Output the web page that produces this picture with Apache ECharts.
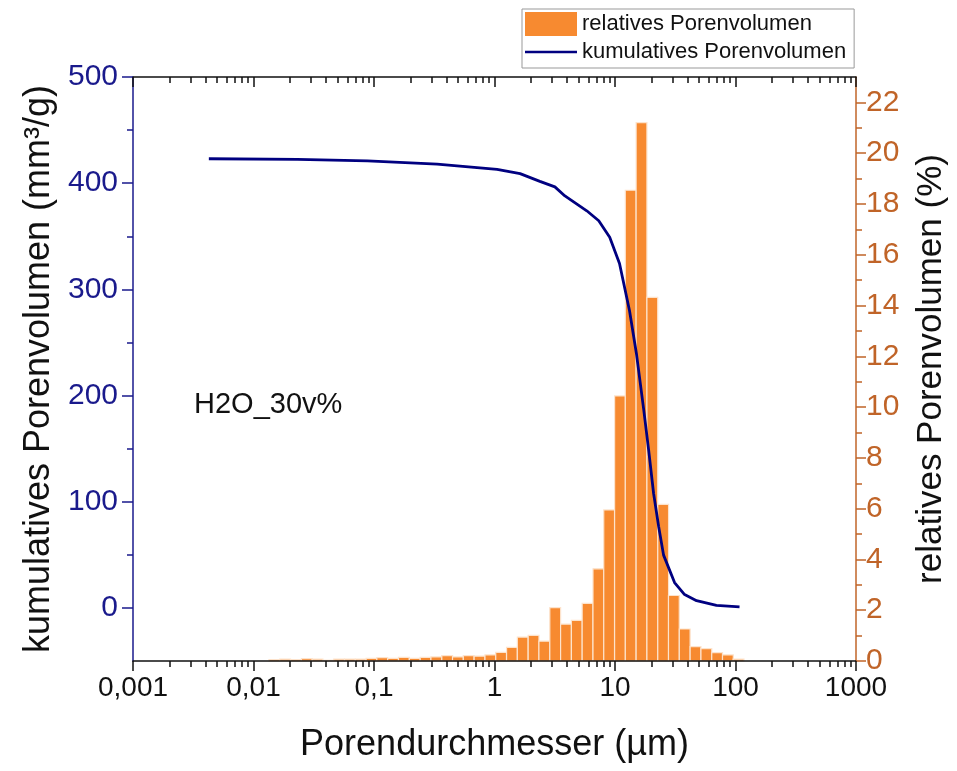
<!DOCTYPE html>
<html>
<head>
<meta charset="utf-8">
<script src="https://cdn.jsdelivr.net/npm/echarts@6/dist/echarts.min.js"></script>
<style>
  html, body { margin: 0; padding: 0; background: #fff; }
  #chart { width: 957px; height: 771px; }
</style>
</head>
<body>
<div id="chart"></div>
<script>
// Klassenmitten der Porendurchmesser (µm) und relatives Porenvolumen (%)
var binDiameter = [0.0149, 0.0183, 0.0225, 0.0277, 0.0340, 0.0418, 0.0514, 0.0631, 0.0776, 0.0954,
  0.117, 0.144, 0.177, 0.218, 0.268, 0.329, 0.405, 0.497, 0.611, 0.751,
  0.924, 1.135, 1.396, 1.715, 2.11, 2.59, 3.19, 3.92, 4.82, 5.92,
  7.28, 8.94, 11.0, 13.5, 16.6, 20.4, 25.1, 30.8, 37.9, 46.6,
  57.3, 70.4, 86.5, 106];
var relVolume = [0.06, 0.07, 0.06, 0.09, 0.07, 0.03, 0.07, 0.07, 0.07, 0.10,
  0.13, 0.10, 0.14, 0.10, 0.14, 0.16, 0.21, 0.16, 0.21, 0.19,
  0.24, 0.34, 0.54, 0.94, 1.01, 0.78, 2.10, 1.45, 1.60, 2.27,
  3.63, 5.95, 10.44, 18.54, 21.2, 14.32, 6.17, 2.58, 1.26, 0.57,
  0.49, 0.33, 0.24, 0.07];

// kumulatives Porenvolumen (mm3/g)
var cumDiameter = [0.00426, 0.0232, 0.0882, 0.334, 0.716, 1.05, 1.63, 2.38, 3.17, 3.84,
  5.83, 7.33, 9.04, 10.9, 13.2, 15.1, 17.3, 19.0, 20.9, 23.0,
  25.3, 31.2, 37.8, 47.5, 69.5, 108];
var cumVolume = [423, 422.5, 421, 418, 414.7, 413, 409, 401.7, 396.5, 388,
  374, 364.6, 349, 324.4, 279.8, 238.6, 187, 149, 108, 77,
  49.7, 23.9, 12.6, 6.8, 2.3, 1];

var xDecades = [0.001, 0.01, 0.1, 1, 10, 100, 1000];
var leftTicks = [0, 100, 200, 300, 400, 500];
var leftMinor = [50, 150, 250, 350, 450];
var rightTicks = [0, 2, 4, 6, 8, 10, 12, 14, 16, 18, 20, 22];
var rightMinor = [1, 3, 5, 7, 9, 11, 13, 15, 17, 19, 21];

var FONT = 'Liberation Sans, Arial, sans-serif';
var BLUE = '#1a1a8c';
var ORANGE_AX = '#c06428';
var BAR = '#f78a30';
var halfBin = Math.pow(10, 0.0448);

// minor ticks 2..9 in each decade, given as log10 values for the helper axes
var xMinorLog = [];
xDecades.slice(0, -1).forEach(function (d) {
  for (var m = 2; m <= 9; m++) xMinorLog.push(Math.log10(d * m));
});

var chart = echarts.init(document.getElementById('chart'), null, { renderer: 'canvas' });

function xLabel(v) {
  return String(+(+v).toPrecision(6)).replace('.', ',');
}

function renderBar(params, api) {
  var d = api.value(0), v = api.value(1);
  var p0 = api.coord([d / halfBin, v]);
  var p1 = api.coord([d * halfBin, 0]);
  return {
    type: 'rect',
    shape: { x: p0[0], y: p0[1], width: p1[0] - p0[0], height: p1[1] - p0[1] },
    style: { fill: BAR, stroke: '#fde3cc', lineWidth: 1.2 }
  };
}

var option = {
  animation: false,
  textStyle: { fontFamily: FONT },
  grid: { left: 133, right: 98, top: 77, bottom: 110 },
  title: {
    text: 'H2O_30v%',
    left: 194, top: 390, padding: 0,
    textStyle: { fontFamily: FONT, fontSize: 29, fontWeight: 'normal', color: '#111' }
  },
  legend: {
    orient: 'vertical',
    left: 522, top: 9,
    padding: [3, 8, 5, 3],
    itemGap: 5,
    itemWidth: 52, itemHeight: 24,
    borderColor: '#999', borderWidth: 1,
    backgroundColor: '#fff',
    textStyle: { fontFamily: FONT, fontSize: 22, color: '#111' },
    data: [
      { name: 'relatives Porenvolumen', icon: 'rect' },
      { name: 'kumulatives Porenvolumen', icon: 'path://M0,0 L52,0 L52,2.5 L0,2.5 Z' }
    ]
  },
  xAxis: [
    {
      type: 'log', logBase: 10, min: 0.001, max: 1000, position: 'bottom', z: 5,
      name: 'Porendurchmesser (µm)', nameLocation: 'middle', nameGap: 66,
      nameTextStyle: { fontFamily: FONT, fontSize: 36, color: '#111' },
      axisLine: { onZero: false, lineStyle: { color: '#111', width: 1.5 } },
      axisTick: { length: 10, lineStyle: { color: '#111', width: 1.5 } },
      axisLabel: { fontSize: 28, color: '#111', margin: 13, formatter: xLabel },
      splitLine: { show: false }
    },
    {
      // helper axis for the minor ticks (log10 units)
      type: 'value', min: -3, max: 3, position: 'bottom', z: 5,
      axisLine: { show: false, onZero: false },
      axisTick: { length: 6, customValues: xMinorLog, lineStyle: { color: '#111', width: 1.5 } },
      axisLabel: { show: false },
      splitLine: { show: false }
    },
    {
      type: 'log', logBase: 10, min: 0.001, max: 1000, position: 'top', z: 5,
      axisLine: { onZero: false, lineStyle: { color: '#111', width: 1.5 } },
      axisTick: { inside: true, length: 10, lineStyle: { color: '#111', width: 1.5 } },
      axisLabel: { show: false },
      splitLine: { show: false }
    },
    {
      type: 'value', min: -3, max: 3, position: 'top', z: 5,
      axisLine: { show: false, onZero: false },
      axisTick: { inside: true, length: 6, customValues: xMinorLog, lineStyle: { color: '#111', width: 1.5 } },
      axisLabel: { show: false },
      splitLine: { show: false }
    }
  ],
  yAxis: [
    {
      type: 'value', min: -50, max: 500, position: 'left', z: 5,
      name: 'kumulatives Porenvolumen (mm³/g)', nameLocation: 'middle', nameGap: 74, nameRotate: 90,
      nameTextStyle: { fontFamily: FONT, fontSize: 36, color: '#111' },
      axisLine: { onZero: false, lineStyle: { color: BLUE, width: 1.5 } },
      axisTick: { length: 11, customValues: leftTicks, lineStyle: { color: BLUE, width: 1.5 } },
      axisLabel: { fontSize: 30, color: BLUE, margin: 15, customValues: leftTicks },
      splitLine: { show: false }
    },
    {
      type: 'value', min: -50, max: 500, position: 'left', z: 5,
      axisLine: { show: false, onZero: false },
      axisTick: { length: 6, customValues: leftMinor, lineStyle: { color: BLUE, width: 1.5 } },
      axisLabel: { show: false },
      splitLine: { show: false }
    },
    {
      type: 'value', min: 0, max: 23, position: 'right', z: 5,
      name: 'relatives Porenvolumen (%)', nameLocation: 'middle', nameGap: 58, nameRotate: 90,
      nameTextStyle: { fontFamily: FONT, fontSize: 35, color: '#111' },
      axisLine: { onZero: false, lineStyle: { color: ORANGE_AX, width: 1.5 } },
      axisTick: { length: 10, customValues: rightTicks, lineStyle: { color: ORANGE_AX, width: 1.5 } },
      axisLabel: { fontSize: 30, color: ORANGE_AX, margin: 10, customValues: rightTicks },
      splitLine: { show: false }
    },
    {
      type: 'value', min: 0, max: 23, position: 'right', z: 5,
      axisLine: { show: false, onZero: false },
      axisTick: { length: 6, customValues: rightMinor, lineStyle: { color: ORANGE_AX, width: 1.5 } },
      axisLabel: { show: false },
      splitLine: { show: false }
    }
  ],
  series: [
    {
      name: 'relatives Porenvolumen',
      type: 'custom',
      xAxisIndex: 0, yAxisIndex: 2,
      itemStyle: { color: BAR },
      renderItem: renderBar,
      encode: { x: 0, y: 1 },
      data: binDiameter.map(function (d, i) { return [d, relVolume[i]]; })
    },
    {
      name: 'kumulatives Porenvolumen',
      type: 'line',
      xAxisIndex: 0, yAxisIndex: 0,
      symbol: 'none',
      lineStyle: { color: '#000080', width: 2.8 },
      itemStyle: { color: '#000080' },
      data: cumDiameter.map(function (d, i) { return [d, cumVolume[i]]; })
    }
  ]
};

chart.setOption(option);
</script>
</body>
</html>
